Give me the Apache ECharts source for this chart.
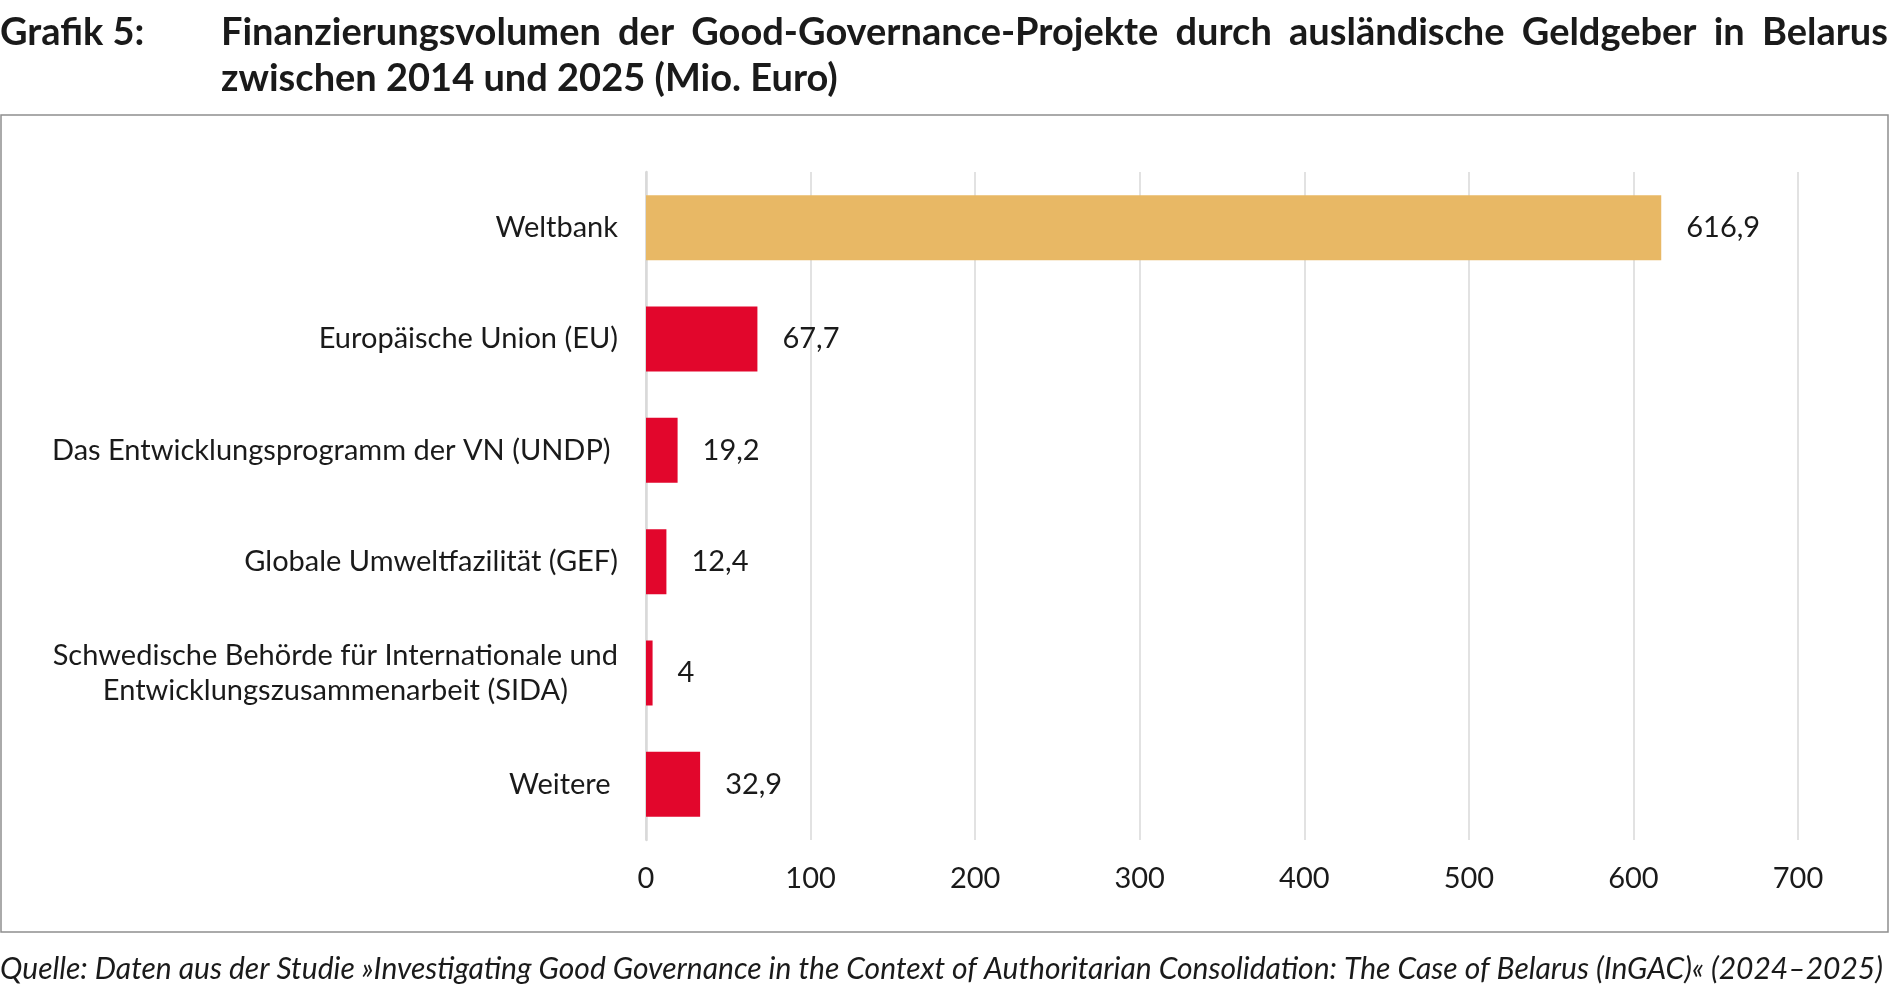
<!DOCTYPE html>
<html>
<head>
<meta charset="utf-8">
<script src="https://cdn.jsdelivr.net/npm/echarts@6/dist/echarts.min.js"></script>
<style>
html,body{margin:0;padding:0;background:#fff;}
#chart{width:1890px;height:991px;}
</style>
</head>
<body>
<div id="chart"></div>
<script>
const categories = [
  "Weltbank",
  "Europäische Union (EU)",
  "Das Entwicklungsprogramm der VN (UNDP) ",
  "Globale Umweltfazilität (GEF)",
  "Schwedische Behörde für Internationale und\nEntwicklungszusammenarbeit (SIDA)",
  "Weitere "
];
const values = [616.9, 67.7, 19.2, 12.4, 4, 32.9];
const barColors = ["#E8B865", "#E2062C", "#E2062C", "#E2062C", "#E2062C", "#E2062C"];
const xTicks = [0, 100, 200, 300, 400, 500, 600, 700];
const titleLabel = "Grafik 5:";
const titleLine1 = "Finanzierungsvolumen der Good-Governance-Projekte durch ausländische Geldgeber in Belarus";
const titleLine2 = "zwischen 2014 und 2025 (Mio. Euro)";
const sourceText = "Quelle: Daten aus der Studie »Investigating Good Governance in the Context of Authoritarian Consolidation: The Case of Belarus (InGAC)« (2024–2025)";

const FONT = 'Lato';
const TITLE_FONT = 'bold 38px Lato';

// justified first title line: words spread between the title's left and right edges
function justifiedWords(text, font, x0, x1, top) {
  const ctx = document.createElement('canvas').getContext('2d');
  ctx.font = font;
  const words = text.split(' ');
  const widths = words.map(w => ctx.measureText(w).width);
  const total = widths.reduce((a, b) => a + b, 0);
  const gap = (x1 - x0 - total) / (words.length - 1);
  let x = x0;
  return words.map((w, i) => {
    const el = { type: 'text', x: x, y: top, style: { text: w, font: font, fill: '#1a1a1a', textVerticalAlign: 'top' } };
    x += widths[i] + gap;
    return el;
  });
}

const chart = echarts.init(document.getElementById('chart'));
const option = {
  animation: false,
  textStyle: { fontFamily: FONT, color: '#1a1a1a' },
  graphic: [
    { type: 'rect', shape: { x: 1, y: 115, width: 1887, height: 817 }, style: { fill: 'none', stroke: '#8f8f8f', lineWidth: 1.5 }, z: 0 },
    { type: 'text', left: 0, top: 14, style: { text: titleLabel, font: TITLE_FONT, fill: '#1a1a1a' } },
    ...justifiedWords(titleLine1, TITLE_FONT, 221, 1888, 14),
    { type: 'text', left: 221, top: 60, style: { text: titleLine2, font: TITLE_FONT, fill: '#1a1a1a' } },
    { type: 'text', left: 0, top: 954, style: { text: sourceText, font: 'italic 30px Lato', fill: '#1a1a1a' } }
  ],
  grid: { left: 646, right: 92, top: 172, bottom: 151, containLabel: false },
  xAxis: {
    type: 'value', min: 0, max: 700, interval: 100,
    axisLine: { show: false }, axisTick: { show: false },
    splitLine: { show: true, lineStyle: { color: '#d9d9d9', width: 1.5 } },
    axisLabel: {
      margin: 24, fontSize: 29, fontFamily: FONT, color: '#1a1a1a',
      formatter: v => xTicks.includes(v) ? String(v) : ''
    }
  },
  yAxis: {
    type: 'category', data: categories, inverse: true,
    axisLine: { show: true, lineStyle: { color: '#d9d9d9', width: 2.5 } },
    axisTick: { show: false },
    axisLabel: {
      margin: 28, fontSize: 29, fontFamily: FONT, color: '#1a1a1a', lineHeight: 35,
      formatter: v => v.split('\n').map(s => '{c|' + s + '}').join('\n'),
      rich: { c: { align: 'center', fontSize: 29, fontFamily: FONT, color: '#1a1a1a', lineHeight: 35 } }
    }
  },
  series: [{
    type: 'bar',
    data: values.map((v, i) => ({ value: v, itemStyle: { color: barColors[i] } })),
    barWidth: 65,
    label: {
      show: true, position: 'right', distance: 25,
      fontSize: 29, fontFamily: FONT, color: '#1a1a1a',
      formatter: p => String(p.value).replace('.', ',')
    }
  }]
};
chart.setOption(option);
</script>
</body>
</html>
